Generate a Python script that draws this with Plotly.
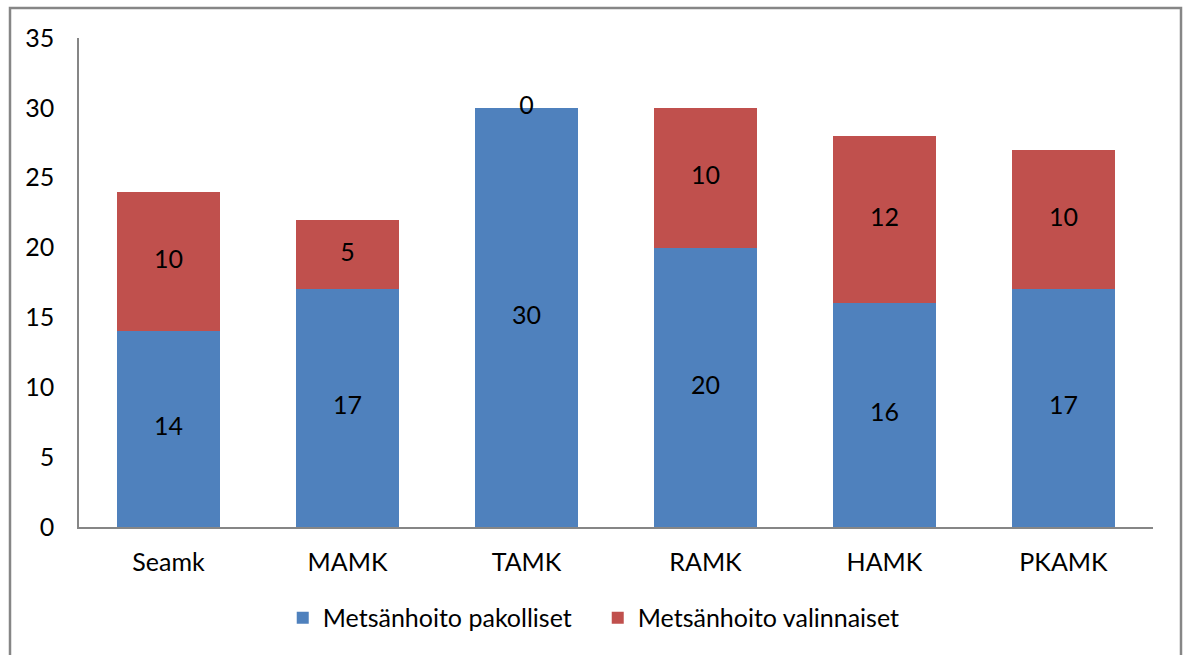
import plotly.graph_objects as go

categories = ["Seamk", "MAMK", "TAMK", "RAMK", "HAMK", "PKAMK"]
pakolliset = [14, 17, 30, 20, 16, 17]
valinnaiset = [10, 5, 0, 10, 12, 10]
series_names = ["Metsänhoito pakolliset", "Metsänhoito valinnaiset"]
y_ticks = [0, 5, 10, 15, 20, 25, 30, 35]

BLUE = "#4F81BD"
RED = "#C0504D"
FONT = "Lato"
FS = 25

fig = go.Figure()
fig.add_trace(go.Bar(x=categories, y=pakolliset, name=series_names[0],
                     marker=dict(color=BLUE, line=dict(width=0))))
fig.add_trace(go.Bar(x=categories, y=valinnaiset, name=series_names[1],
                     marker=dict(color=RED, line=dict(width=0))))

# data labels centred in each segment
lab_x = categories + categories
lab_y = [p / 2 for p in pakolliset] + [p + v / 2 for p, v in zip(pakolliset, valinnaiset)]
lab_t = [str(p) for p in pakolliset] + [str(v) for v in valinnaiset]
fig.add_trace(go.Scatter(x=lab_x, y=lab_y, text=lab_t, mode="text",
                         textfont=dict(family=FONT, size=FS, color="black"),
                         showlegend=False, hoverinfo="skip"))

fig.update_layout(
    barmode="stack",
    bargap=0.425,
    width=1190, height=655,
    margin=dict(l=79, r=37, t=38, b=128),
    paper_bgcolor="white", plot_bgcolor="white",
    font=dict(family=FONT, size=FS, color="black"),
    legend=dict(orientation="h", x=0.483, xanchor="center", y=-0.186, yanchor="middle",
                font=dict(family=FONT, size=FS), traceorder="normal",
                entrywidth=270, entrywidthmode="pixels"),
    showlegend=True,
)
fig.update_yaxes(range=[0, 35], tickvals=y_ticks, showgrid=False, zeroline=False,
                 showline=True, linecolor="#868686", linewidth=1.5, ticks="",
                 ticklabelstandoff=18, tickfont=dict(family=FONT, size=FS))
fig.update_xaxes(showgrid=False, showline=True, linecolor="#868686", linewidth=1.5,
                 ticks="", ticklabelstandoff=12, tickfont=dict(family=FONT, size=FS))

fig.add_shape(type="rect", xref="paper", yref="paper",
              x0=(10 - 79) / 1074, x1=(1181 - 79) / 1074,
              y0=(527 - 680) / 489, y1=(527 - 8) / 489,
              line=dict(color="#868686", width=2.5), fillcolor="rgba(0,0,0,0)", layer="below")

fig.write_html("out.html", config={"displayModeBar": False},
               post_script="document.body.style.margin='0';")
